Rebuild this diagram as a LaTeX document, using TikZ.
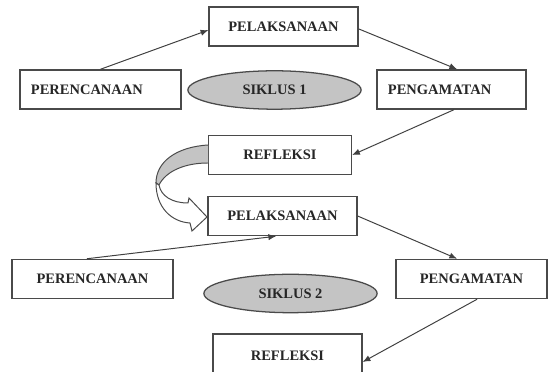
\documentclass[tikz,border=0pt]{standalone}
\usepackage{fontspec}
\setmainfont{Liberation Serif}
\usepackage{xcolor}
\usetikzlibrary{calc,shapes.geometric,arrows.meta}

\definecolor{lineclr}{HTML}{4A4A4A}
\definecolor{ovalclr}{HTML}{C4C4C4}

\begin{document}
\begin{tikzpicture}[x=0.025cm,y=-0.025cm,
  font=\fontsize{10.3}{12}\selectfont\bfseries,
  box/.style={draw=lineclr,line width=0.9pt,fill=white,inner sep=0pt,
    minimum width=#1,minimum height=0.98cm,text=black!85},
  box/.default=3.725cm,
  lbox/.style={box=#1,text width=#1-0.55cm,inner xsep=0.27cm,align=left},
  siklus/.style={ellipse,draw=lineclr,line width=0.9pt,fill=ovalclr,inner sep=0pt,
    minimum width=4.33cm,minimum height=0.96cm,text=black!85},
  arr/.style={draw=black!75,line width=0.7pt,-{Latex[length=5.5pt,width=4.5pt]}}]
  \clip (0,0) rectangle (548,372);
  % siklus 1
  \node[box] (pel1) at (283.5,26.5) {PELAKSANAAN};
  \node[lbox=4.025cm] (per1) at (100.5,89.5) {PERENCANAAN};
  \node[siklus] (sik1) at (274.5,90) {SIKLUS 1};
  \node[lbox=3.725cm] (pen1) at (451.5,89.5) {PENGAMATAN};
  \node[box=3.575cm] (ref1) at (280,155) {REFLEKSI};
  \draw[arr] (per1.north) -- ([yshift=-0.09cm]pel1.west);
  \draw[arr] ([yshift=-0.06cm]pel1.east) -- ([xshift=0.14cm]pen1.north);
  \draw[arr] ([xshift=0.06cm]pen1.south) -- (ref1.east);
  % panah lengkung
  \fill[ovalclr,draw=lineclr,line width=0.7pt]
    (208,145) .. controls (176,147) and (156,162) .. (156,183)
    -- (159,185) .. controls (166,171) and (185,163) .. (208,163);
  \draw[fill=white,draw=lineclr,line width=0.7pt]
    (156,183) .. controls (156,208) and (172,222) .. (190,223)
    -- (192,231) -- (207,217) -- (189,198) -- (188,203)
    .. controls (172,203) and (161,196) .. (159,185) -- cycle;
  % siklus 2
  \node[box] (pel2) at (282.5,216) {PELAKSANAAN};
  \node[box=4.025cm] (per2) at (92.5,279) {PERENCANAAN};
  \node[siklus] (sik2) at (290.5,293.5) {SIKLUS 2};
  \node[box=3.775cm] (pen2) at (471.5,279) {PENGAMATAN};
  \node[box=3.725cm,minimum height=1.1cm] (ref2) at (287.5,356) {REFLEKSI};
  \draw[arr] ([xshift=-0.14cm]per2.north) -- ([xshift=-0.16cm]pel2.south);
  \draw[arr] (pel2.east) -- ([xshift=-0.36cm]pen2.north);
  \draw[arr] ([xshift=0.14cm]pen2.south) -- ([yshift=-0.15cm]ref2.east);
\end{tikzpicture}
\end{document}
